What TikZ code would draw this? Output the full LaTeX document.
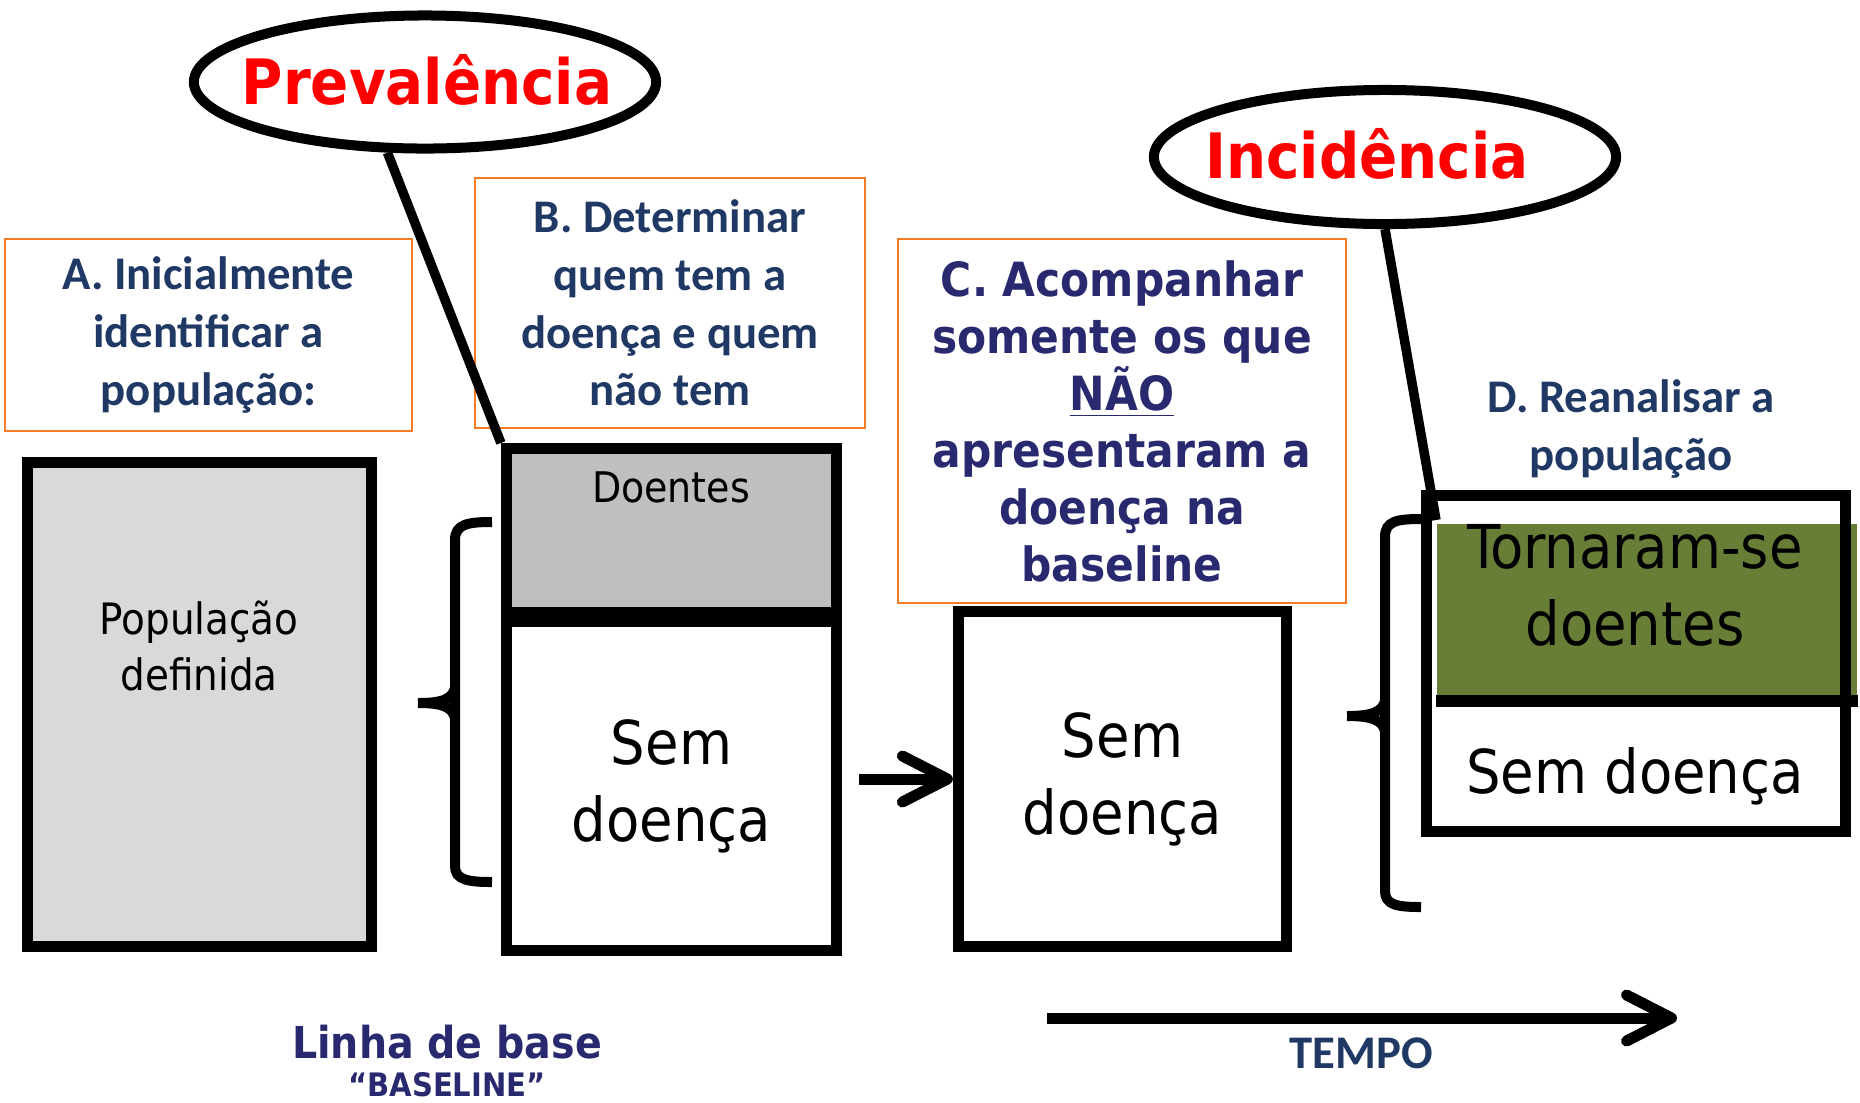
\documentclass[tikz,border=0pt]{standalone}
\usepackage{fontspec}
\setmainfont{DejaVu Sans Condensed}
\newfontfamily\calib{Carlito}
\usepackage{tikz}
\usetikzlibrary{arrows.meta,
	shapes.geometric}
\definecolor{stepline}{RGB}{245,124,36}
\definecolor{navytext}{RGB}{31,56,100}
\definecolor{indigotext}{RGB}{41,41,112}
\definecolor{sickgreen}{RGB}{104,126,54}
\definecolor{popgray}{RGB}{217,217,217}
\definecolor{sickgray}{RGB}{191,191,191}

\begin{document}
\begin{tikzpicture}[x=0.01cm,y=-0.01cm]
    \tikzstyle{blackbox}=[draw=black,line width=0.11cm,inner sep=0pt]
    \tikzstyle{stepbox}=[draw=stepline,line width=0.025cm,inner sep=0pt,align=center]
    \tikzstyle{balloon}=[ellipse,draw=black,line width=0.1cm,inner sep=0pt]
    \tikzstyle{balloontext}=[text=red,font=\bfseries\fontsize{17.8}{20}\selectfont]
    \tikzstyle{calibtext}=[text=navytext,align=center,font=\calib\bfseries\fontsize{13.3}{16.4}\selectfont]
    \tikzstyle{tahomatext}=[text=indigotext,align=center,font=\bfseries\fontsize{13.4}{16.2}\selectfont]
    \tikzstyle{bigtext}=[align=center,font=\fontsize{17.2}{21.9}\selectfont]
    \tikzstyle{brace}=[line width=0.1cm]
    \tikzstyle{arrowline}=[line width=0.11cm,-{Straight Barb[length=4.5mm,width=4.6mm,round]}]
    \useasboundingbox (0,0) rectangle (1860,1102);
    \node[stepbox,calibtext,minimum width=4.07cm,minimum height=1.92cm] (step_a) at (208.5,335) {A. Inicialmente\\identificar a\\população:};
    \node[stepbox,calibtext,minimum width=3.9cm,minimum height=2.5cm] (step_b) at (670,303) {B. Determinar\\quem tem a\\doença e quem\\não tem};
    \node[stepbox,tahomatext,minimum width=4.48cm,minimum height=3.64cm] (step_c) at (1122,421) {C. Acompanhar\\somente os que\\\underline{NÃO}\\apresentaram a\\doença na\\baseline};
    \node[calibtext] (step_d) at (1631,429) {D. Reanalisar a\\população};
    \node[balloon,minimum width=4.62cm,minimum height=1.33cm] (prev) at (425,82) {};
    \node[balloontext] (prev_txt) at (427,80) {Prevalência};
    \node[balloon,minimum width=4.62cm,minimum height=1.34cm] (inc) at (1385,157) {};
    \node[balloontext] (inc_txt) at (1367,154) {Incidência};
    \node[blackbox,fill=popgray,minimum width=3.44cm,minimum height=4.84cm] (pop) at (199.5,704.5) {};
    \node[align=center,font=\fontsize{12.3}{16}\selectfont] (pop_txt) at (199,646) {População\\definida};
    \node[blackbox,fill=sickgray,minimum width=3.3cm,minimum height=1.64cm] (sick_b) at (671.5,530.5) {};
    \node[font=\fontsize{12}{14}\selectfont] (sick_b_txt) at (671,487) {Doentes};
    \node[blackbox,bigtext,minimum width=3.3cm,minimum height=3.29cm] (well_b) at (671.5,786) {Sem\\doença};
    \node[blackbox,bigtext,minimum width=3.28cm,minimum height=3.35cm] (well_c) at (1122.5,779) {Sem\\doença};
    \node[fill=sickgreen,inner sep=0pt,minimum width=4.2cm,minimum height=1.72cm] (sick_d) at (1647,610) {};
    \node[blackbox,minimum width=4.19cm,minimum height=3.36cm] (box_d) at (1636,663.5) {};
    \draw[line width=0.12cm] ([yshift=-0.04cm]sick_d.south west) -- ([yshift=-0.04cm]sick_d.south east);
    \node[bigtext] (sick_d_txt) at (1635,585) {Tornaram-se\\doentes};
    \node[bigtext] (well_d_txt) at (1635,776) {Sem doença};
    \draw[brace] (492,522) .. controls (468,522) and (455,524) .. (455,540) -- (455,866) .. controls (455,880) and (468,882) .. (492,882);
    \draw[brace] (418,703) .. controls (440,703) and (452,700) .. (455,688) (418,703) .. controls (440,703) and (452,706) .. (455,718);
    \draw[brace] (1421,519) .. controls (1397,519) and (1385,521) .. (1385,537) -- (1385,891) .. controls (1385,905) and (1397,907) .. (1421,907);
    \draw[brace] (1347,716) .. controls (1369,716) and (1382,713) .. (1385,701) (1347,716) .. controls (1369,716) and (1382,719) .. (1385,731);
    \draw[arrowline] ([xshift=0.165cm]well_b.east |- well_c.west) -- (well_c.west);
    \coordinate (t_0) at (1047,1018);
    \coordinate (t_1) at (1677,1018);
    \draw[arrowline] (t_0) -- (t_1);
    \node[calibtext] (tempo) at (1361,1053) {TEMPO};
    \node[text=indigotext,font=\bfseries\fontsize{12.5}{15}\selectfont] (base) at (447,1042) {Linha de base};
    \node[text=indigotext,font=\bfseries\fontsize{9.2}{11}\selectfont] (base_en) at (447,1085) {“BASELINE”};
    \coordinate (inc_end) at (1436,520);
    \draw[line width=0.095cm] (prev.242) -- (sick_b.north west);
    \draw[line width=0.095cm] (inc.south) -- (inc_end);
\end{tikzpicture}
\end{document}
